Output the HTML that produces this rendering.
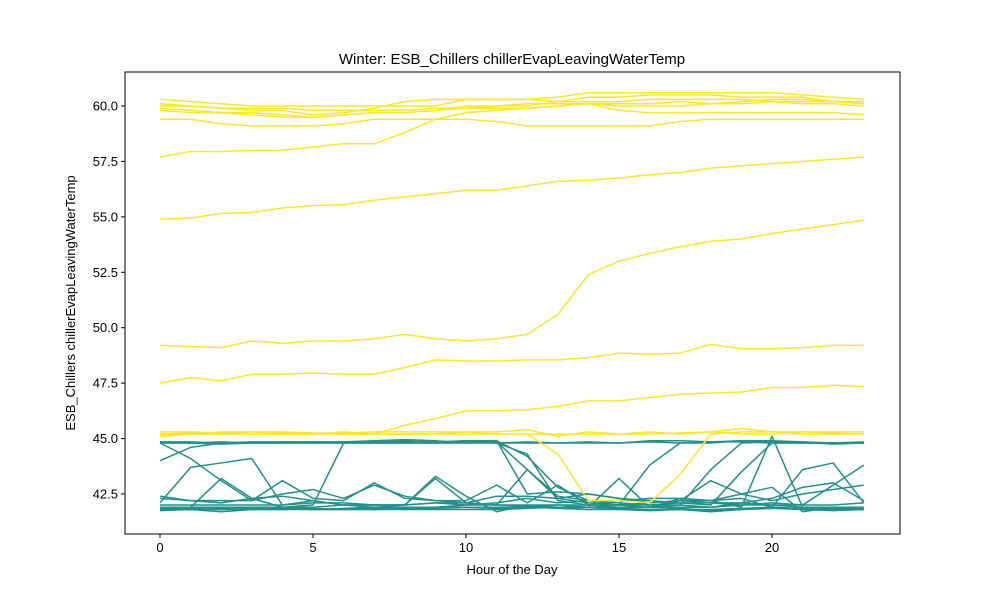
<!DOCTYPE html>
<html><head><meta charset="utf-8"><style>
body{margin:0;background:#fff;font-family:"Liberation Sans","DejaVu Sans",sans-serif}
svg text{font-family:"Liberation Sans","DejaVu Sans",sans-serif;font-size:13px;fill:#000}
</style></head><body>
<svg id="c" width="1000" height="600"></svg>
<script>
const hours=[0,1,2,3,4,5,6,7,8,9,10,11,12,13,14,15,16,17,18,19,20,21,22,23];
const xTicks=[0,5,10,15,20];
const yTicks=[42.5,45.0,47.5,50.0,52.5,55.0,57.5,60.0];
const yellowSeries=[
[60.3,60.2,60.1,60.0,60.0,60.0,60.0,60.0,60.0,60.0,60.3,60.3,60.3,60.4,60.6,60.6,60.6,60.6,60.6,60.6,60.6,60.5,60.4,60.3],
[60.0,60.0,59.9,59.8,59.8,59.6,59.7,59.9,60.2,60.3,60.3,60.3,60.3,60.2,60.2,60.2,60.3,60.3,60.3,60.3,60.2,60.2,60.2,60.2],
[59.9,59.8,59.7,59.7,59.6,59.5,59.6,59.7,59.7,59.8,59.9,60.0,60.0,60.2,60.4,60.4,60.5,60.5,60.5,60.4,60.4,60.4,60.2,60.1],
[59.8,59.7,59.7,59.6,59.5,59.5,59.6,59.7,59.7,59.8,60.0,60.0,60.1,60.1,60.1,59.8,59.7,59.7,59.7,59.7,59.7,59.7,59.7,59.6],
[60.1,60.0,59.9,59.9,59.9,59.8,59.8,59.8,59.8,59.9,59.9,59.9,59.9,60.0,60.1,60.1,60.1,60.2,60.1,60.1,60.2,60.1,60.1,60.0],
[59.4,59.4,59.2,59.1,59.1,59.1,59.2,59.4,59.4,59.4,59.4,59.3,59.1,59.1,59.1,59.1,59.1,59.3,59.4,59.4,59.4,59.4,59.4,59.4],
[57.7,57.95,57.95,58.0,58.0,58.15,58.3,58.3,58.8,59.4,59.7,59.8,59.9,60.0,60.1,60.0,60.0,60.0,60.1,60.2,60.3,60.3,60.2,60.2],
[54.9,54.95,55.15,55.2,55.4,55.5,55.55,55.75,55.9,56.05,56.2,56.2,56.4,56.6,56.65,56.75,56.9,57.0,57.2,57.3,57.4,57.5,57.6,57.7],
[49.2,49.15,49.1,49.4,49.3,49.4,49.4,49.5,49.7,49.5,49.4,49.5,49.7,50.6,52.4,53.0,53.35,53.65,53.9,54.0,54.25,54.45,54.65,54.85],
[47.5,47.75,47.6,47.9,47.9,47.95,47.9,47.9,48.2,48.55,48.5,48.5,48.55,48.55,48.65,48.85,48.8,48.85,49.25,49.05,49.05,49.1,49.2,49.2],
[45.2,45.2,45.2,45.2,45.2,45.2,45.2,45.2,45.6,45.9,46.25,46.25,46.3,46.45,46.7,46.7,46.85,47.0,47.05,47.1,47.3,47.3,47.4,47.35],
[45.2,45.25,45.2,45.3,45.25,45.2,45.25,45.3,45.3,45.3,45.3,45.2,45.2,44.3,42.2,42.2,42.1,43.4,45.2,45.3,45.3,45.3,45.3,45.3],
[45.1,45.2,45.3,45.3,45.3,45.25,45.2,45.2,45.2,45.2,45.3,45.3,45.4,45.1,45.3,45.2,45.2,45.25,45.3,45.45,45.3,45.2,45.2,45.2],
[45.3,45.3,45.25,45.2,45.2,45.2,45.3,45.2,45.2,45.2,45.2,45.2,45.2,45.2,45.2,45.2,45.3,45.2,45.3,45.2,45.2,45.3,45.25,45.2]
];
const tealSeries=[
[44.8,44.8,44.8,44.8,44.8,44.8,44.8,44.8,44.85,44.85,44.85,44.8,44.3,42.2,42.0,42.0,42.1,42.2,42.1,42.0,42.1,42.0,42.0,42.1],
[44.85,44.85,44.8,44.85,44.85,44.85,44.8,44.85,44.9,44.8,44.8,44.9,44.2,42.8,42.2,42.1,42.0,42.1,42.0,43.5,44.8,44.8,44.8,44.8],
[44.0,44.6,44.8,44.8,44.8,44.8,44.85,44.8,44.8,44.8,44.9,44.85,43.6,42.3,42.1,42.0,42.0,42.0,43.6,44.8,44.85,44.8,44.8,44.8],
[44.8,44.1,43.1,42.2,42.5,42.7,42.3,42.9,42.4,42.2,42.1,42.0,42.0,41.9,41.9,41.9,41.9,41.9,41.9,42.0,42.0,41.9,41.9,41.8],
[42.1,43.7,43.9,44.1,42.0,42.2,42.0,41.9,42.0,42.1,42.0,42.1,42.3,42.1,42.2,42.0,43.8,44.8,44.8,44.9,44.8,44.8,44.8,44.8],
[42.4,42.2,42.1,42.3,42.4,42.2,42.0,42.0,42.0,43.3,42.4,41.7,42.0,42.0,41.9,43.2,41.9,42.0,41.9,42.1,42.0,42.0,42.9,43.8],
[41.8,41.9,43.2,42.3,41.9,42.0,44.8,44.8,44.8,44.8,44.9,44.9,42.5,42.6,42.5,42.3,42.2,42.1,42.1,42.1,42.3,42.8,43.0,42.2],
[41.8,41.8,41.85,41.8,41.8,41.85,41.8,41.8,41.8,41.9,41.9,41.9,41.9,41.9,41.9,41.85,41.8,41.8,41.8,41.85,41.9,41.85,41.8,41.8],
[41.75,41.8,41.7,41.8,41.8,41.8,41.8,41.85,41.8,41.8,41.8,41.8,41.85,41.9,41.8,41.8,41.75,41.8,41.7,41.8,41.9,41.8,41.75,41.8],
[42.0,42.0,42.0,42.0,42.0,42.1,42.1,42.0,42.0,42.1,42.1,42.4,42.4,42.3,42.5,42.3,42.1,42.2,42.2,42.5,42.2,42.5,42.7,42.9],
[42.3,42.2,42.2,42.2,43.1,42.3,42.2,43.0,42.3,42.2,42.2,42.9,42.1,42.9,42.0,42.0,41.9,42.2,43.1,42.5,42.8,41.7,41.9,41.9],
[41.9,41.9,41.9,41.9,41.9,41.9,42.0,42.0,42.0,43.2,42.1,42.0,43.6,42.4,42.2,42.2,42.3,42.3,42.2,42.3,41.9,43.6,43.9,42.1],
[44.8,44.8,44.75,44.8,44.8,44.85,44.85,44.9,44.95,44.9,44.8,44.8,44.8,44.8,44.8,44.8,44.9,44.9,44.85,44.9,44.9,44.85,44.75,44.8],
[41.8,41.8,41.8,41.85,41.85,41.8,41.85,41.9,41.9,41.9,42.0,42.0,41.95,42.0,42.0,41.9,41.9,42.3,42.2,41.9,45.1,41.9,41.9,41.9],
[44.85,44.8,44.85,44.8,44.85,44.8,44.8,44.85,44.8,44.85,44.9,44.8,44.85,44.8,44.85,44.8,44.85,44.8,44.85,44.85,44.8,44.85,44.8,44.85],
[41.85,41.85,41.8,41.8,41.85,41.8,41.8,41.8,41.85,41.85,41.9,41.85,41.9,41.85,41.8,41.85,41.8,41.85,41.75,41.8,41.85,41.8,41.85,41.85]
];
const L=125,R=900,T=72,B=534;
const X=h=>160+(h-0)*30.6;
const Y=v=>106+(60-v)*22.17;
const s=document.getElementById('c');
const NS='http://www.w3.org/2000/svg';
function mk(t,a){const e=document.createElementNS(NS,t);for(const k in a)e.setAttribute(k,a[k]);s.appendChild(e);return e;}
function line(vals,color,name){
  const p=mk('polyline',{points:vals.map((v,i)=>X(hours[i])+','+Y(v)).join(' '),fill:'none',stroke:color,'stroke-width':1.5,'stroke-linejoin':'round'});
  
  
}
tealSeries.forEach((d,i)=>line(d,'#21918c','teal-series-'+i));
yellowSeries.forEach((d,i)=>line(d,'#fde725','yellow-series-'+i));
const f=mk('rect',{x:L,y:T,width:R-L,height:B-T,fill:'none',stroke:'#000','stroke-width':1});


xTicks.forEach(t=>{
  mk('line',{x1:X(t),x2:X(t),y1:B,y2:B+4,stroke:'#000'});
  const tx=mk('text',{x:X(t),y:B+18,'text-anchor':'middle'});tx.textContent=t;
  
  
});
yTicks.forEach(t=>{
  mk('line',{x1:L-4,x2:L,y1:Y(t),y2:Y(t),stroke:'#000'});
  const tx=mk('text',{x:L-7,y:Y(t)+4.5,'text-anchor':'end'});tx.textContent=t.toFixed(1);
  
  
});
const ti=mk('text',{x:512,y:64,'text-anchor':'middle',style:'font-size:15px'});ti.textContent='Winter: ESB_Chillers chillerEvapLeavingWaterTemp';


const xl=mk('text',{x:512,y:574,'text-anchor':'middle'});xl.textContent='Hour of the Day';


const yl=mk('text',{x:0,y:0,'text-anchor':'middle',transform:'translate(75,303) rotate(-90)'});yl.textContent='ESB_Chillers chillerEvapLeavingWaterTemp';


</script>
</body></html>
